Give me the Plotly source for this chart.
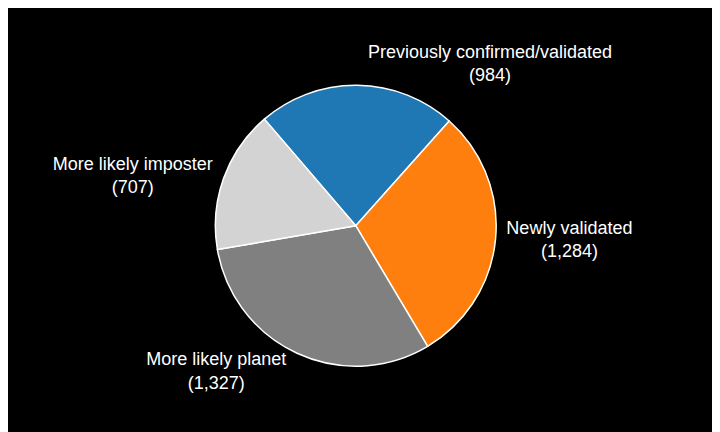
import plotly.graph_objects as go

labels = ["Previously confirmed/validated", "Newly validated", "More likely planet", "More likely imposter"]
values = [984, 1284, 1327, 707]
colors = ["#1f77b4", "#ff7f0e", "#808080", "#d3d3d3"]

fig = go.Figure(go.Pie(
    labels=labels, values=values, sort=False, direction="clockwise", rotation=-40.6,
    marker=dict(colors=colors, line=dict(color="white", width=1.5)),
    texttemplate="%{label}<br>(%{value:,})", textposition="outside",
    textfont=dict(color="white", size=18, family="Liberation Sans"),
    showlegend=False, automargin=False,
    domain=dict(x=[0.193, 0.773], y=[0.171, 0.821]),
))
fig.update_layout(width=720, height=432, paper_bgcolor="black", plot_bgcolor="black",
                  margin=dict(l=0, r=0, t=0, b=0))
fig.write_html("out.html")
